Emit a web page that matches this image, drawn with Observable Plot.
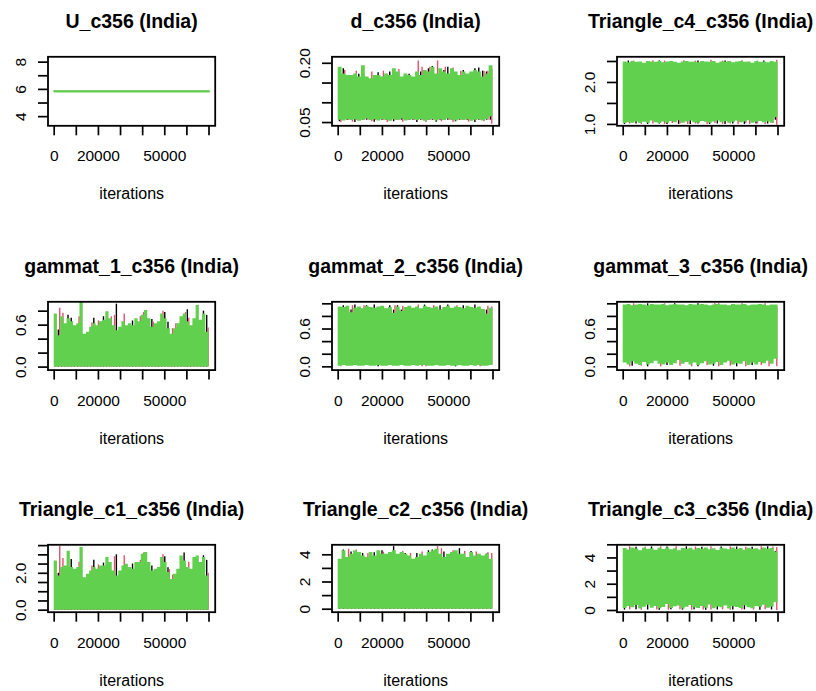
<!DOCTYPE html>
<html><head><meta charset="utf-8">
<script src="https://cdn.jsdelivr.net/npm/d3@7"></script>
<script src="https://cdn.jsdelivr.net/npm/@observablehq/plot@0.6"></script>
<style>
html,body{margin:0;padding:0;background:#fff;}
#chart{position:relative;width:816px;height:691px;overflow:hidden;background:#fff;}
#chart svg{position:absolute;}
</style></head><body><div id="chart"></div>
<script>
// ---------------- data ----------------
const titles = ["U_c356 (India)","d_c356 (India)","Triangle_c4_c356 (India)",
  "gammat_1_c356 (India)","gammat_2_c356 (India)","gammat_3_c356 (India)",
  "Triangle_c1_c356 (India)","Triangle_c2_c356 (India)","Triangle_c3_c356 (India)"];
const xLabel = "iterations";
const iterRange = [0, 70000];
const xDomain = [-2800, 72800];
const xTicks = [0,10000,20000,30000,40000,50000,60000,70000];
const xTickLabels = ["0","20000","50000"];

// U_c356: all three chains constant
const U_chains = {black: 5.86, red: 5.86, green: 5.86};
const U_yDomain = [3.328, 8.392];
const U_yTicks = [4,5,6,7,8];
const U_yLabels = ["4","6","8"];

// d_c356
const d_yDomain = [0.0418, 0.2164];
const d_yTicks = [0.05,0.10,0.15,0.20];
const d_yLabels = ["0.05","0.20"];
const d_green_hi = [0.190,0.173,0.169,0.169,0.173,0.165,0.194,0.165,0.161,0.169,0.169,0.165,0.173,0.169,0.186,0.178,0.165,0.173,0.169,0.165,0.178,0.169,0.182,0.178,0.190,0.173,0.186,0.178,0.173,0.186,0.178,0.169,0.178,0.173,0.178,0.182,0.178,0.165,0.173,0.194];
const d_green_lo = [0.056,0.054,0.058,0.055,0.057,0.053,0.056,0.059,0.055,0.057,0.054,0.058,0.056,0.053,0.057,0.055,0.059,0.054,0.056,0.058,0.055,0.057,0.053,0.056,0.058,0.054,0.057,0.055,0.059,0.056,0.054,0.057,0.055,0.058,0.053,0.056,0.057,0.054,0.058,0.065];
const d_red_hi = [0.160,0.182,0.150,0.158,0.180,0.150,0.170,0.155,0.178,0.150,0.160,0.180,0.150,0.165,0.160,0.184,0.150,0.158,0.160,0.150,0.206,0.190,0.160,0.190,0.170,0.206,0.160,0.190,0.165,0.188,0.150,0.180,0.160,0.165,0.150,0.170,0.160,0.180,0.180,0.185];
const d_red_lo = [0.050,0.056,0.056,0.051,0.056,0.056,0.056,0.056,0.052,0.056,0.056,0.056,0.050,0.056,0.056,0.056,0.051,0.056,0.056,0.056,0.056,0.056,0.050,0.056,0.056,0.056,0.052,0.056,0.056,0.050,0.056,0.056,0.056,0.051,0.056,0.056,0.056,0.052,0.056,0.046];
const d_black_hi = [0.150,0.186,0.150,0.160,0.150,0.172,0.160,0.150,0.155,0.150,0.176,0.150,0.160,0.178,0.150,0.160,0.150,0.155,0.172,0.150,0.160,0.178,0.150,0.186,0.192,0.150,0.160,0.182,0.190,0.150,0.160,0.150,0.182,0.160,0.150,0.186,0.188,0.180,0.178,0.160];
const d_black_lo = [0.052,0.056,0.056,0.056,0.050,0.056,0.056,0.056,0.056,0.051,0.056,0.056,0.056,0.056,0.052,0.056,0.056,0.056,0.056,0.056,0.050,0.056,0.056,0.056,0.056,0.051,0.056,0.056,0.056,0.056,0.052,0.056,0.056,0.056,0.056,0.050,0.056,0.056,0.056,0.056];

// Triangle_c4_c356
const t4_yDomain = [0.967, 2.612];
const t4_yTicks = [1.0,1.5,2.0,2.5];
const t4_yLabels = ["1.0","2.0"];
const t4_green_hi = [2.49,2.47,2.50,2.48,2.49,2.46,2.50,2.49,2.48,2.50,2.47,2.49,2.50,2.48,2.46,2.49,2.50,2.48,2.49,2.47,2.50,2.49,2.48,2.50,2.46,2.49,2.48,2.50,2.47,2.49,2.50,2.48,2.49,2.46,2.50,2.48,2.49,2.47,2.50,2.48];
const t4_green_lo = [1.02,1.04,1.03,1.06,1.02,1.05,1.03,1.08,1.04,1.02,1.06,1.03,1.07,1.04,1.09,1.03,1.06,1.08,1.04,1.03,1.07,1.05,1.03,1.06,1.08,1.04,1.07,1.03,1.05,1.08,1.04,1.06,1.09,1.03,1.05,1.07,1.04,1.06,1.03,1.16];
const t4_red_hi = [2.45,2.45,2.51,2.45,2.45,2.45,2.45,2.52,2.45,2.45,2.51,2.45,2.45,2.45,2.45,2.52,2.45,2.45,2.51,2.45,2.45,2.45,2.53,2.45,2.45,2.51,2.45,2.45,2.45,2.45,2.52,2.45,2.45,2.45,2.51,2.45,2.45,2.45,2.45,2.53];
const t4_red_lo = [1.10,1.01,1.10,1.10,1.00,1.10,1.10,1.01,1.10,1.10,1.00,1.10,1.02,1.10,1.01,1.10,1.00,1.10,1.01,1.10,1.10,1.00,1.10,1.02,1.10,1.00,1.10,1.01,1.10,1.00,1.10,1.02,1.00,1.10,1.01,1.10,1.00,1.10,1.02,0.98];
const t4_black_hi = [2.45,2.51,2.45,2.45,2.45,2.45,2.45,2.45,2.45,2.51,2.45,2.45,2.45,2.45,2.45,2.45,2.45,2.45,2.45,2.51,2.45,2.45,2.45,2.45,2.45,2.45,2.51,2.45,2.45,2.45,2.45,2.45,2.45,2.45,2.45,2.45,2.51,2.45,2.45,2.45];
const t4_black_lo = [1.00,1.10,1.10,1.01,1.10,1.10,1.00,1.10,1.10,1.01,1.10,1.00,1.10,1.10,1.00,1.10,1.10,1.00,1.10,1.01,1.10,1.10,1.00,1.10,1.01,1.10,1.00,1.10,1.01,1.10,1.10,1.00,1.10,1.10,1.01,1.10,1.10,1.01,1.10,1.10];

// gammat_1_c356
const g1_yDomain = [-0.043, 0.934];
const g1_yTicks = [0,0.2,0.4,0.6,0.8];
const g1_yLabels = ["0.0","0.6"];
const g1_green_hi = [0.76,0.45,0.72,0.62,0.69,0.65,0.59,0.62,0.93,0.47,0.50,0.57,0.62,0.59,0.65,0.67,0.79,0.69,0.59,0.52,0.57,0.65,0.59,0.62,0.59,0.69,0.65,0.74,0.81,0.69,0.57,0.62,0.65,0.76,0.69,0.55,0.47,0.55,0.62,0.72,0.76,0.65,0.59,0.69,0.88,0.67,0.76,0.50];
const g1_green_lo = 0;
const g1_red_hi = [0.40,0.84,0.77,0.40,0.40,0.40,0.40,0.72,0.40,0.40,0.40,0.63,0.40,0.66,0.40,0.40,0.40,0.72,0.74,0.40,0.40,0.76,0.40,0.40,0.40,0.40,0.72,0.78,0.40,0.40,0.64,0.40,0.40,0.80,0.40,0.40,0.55,0.62,0.40,0.40,0.78,0.70,0.40,0.40,0.40,0.40,0.40,0.56];
const g1_red_lo = 0;
const g1_black_hi = [0.40,0.53,0.40,0.40,0.74,0.70,0.40,0.40,0.40,0.40,0.40,0.40,0.70,0.40,0.40,0.72,0.40,0.40,0.40,0.90,0.40,0.40,0.40,0.40,0.66,0.40,0.40,0.40,0.40,0.40,0.68,0.40,0.40,0.40,0.78,0.64,0.40,0.40,0.40,0.40,0.40,0.82,0.40,0.40,0.40,0.40,0.80,0.74];
const g1_black_lo = 0;

// gammat_2_c356
const g2_yDomain = [-0.052, 1.032];
const g2_yTicks = [0,0.2,0.4,0.6,0.8,1.0];
const g2_yLabels = ["0.0","0.6"];
const g2_green_hi = [0.95,0.94,0.96,0.86,0.93,0.95,0.92,0.96,0.94,0.93,0.95,0.96,0.92,0.94,0.85,0.95,0.88,0.94,0.96,0.93,0.95,0.92,0.96,0.94,0.93,0.95,0.90,0.94,0.96,0.93,0.95,0.94,0.92,0.96,0.94,0.93,0.95,0.91,0.84,0.93];
const g2_green_lo = [0.01,0.02,0.01,0.01,0.02,0.01,0.01,0.02,0.01,0.01,0.02,0.01,0.01,0.02,0.01,0.01,0.02,0.01,0.01,0.02,0.01,0.02,0.02,0.01,0.01,0.02,0.01,0.01,0.02,0.01,0.01,0.02,0.01,0.01,0.02,0.01,0.02,0.01,0.01,0.02];
const g2_red_hi = [0.90,0.90,0.90,0.97,0.90,0.90,0.97,0.90,0.90,0.90,0.90,0.90,0.90,0.90,0.97,0.90,0.96,0.90,0.90,0.90,0.98,0.90,0.90,0.90,0.97,0.90,0.90,0.90,0.90,0.90,0.97,0.90,0.90,0.90,0.90,0.90,0.90,0.90,0.96,0.95];
const g2_red_lo = [0.00,0.03,0.03,0.03,0.03,0.03,0.03,0.03,0.03,0.03,0.03,0.03,0.03,0.03,0.03,0.03,0.03,0.03,0.03,0.03,0.03,0.00,0.00,0.03,0.03,0.03,0.03,0.03,0.03,0.03,0.03,0.03,0.03,0.03,0.03,0.03,0.00,0.03,0.03,0.03];
const g2_black_hi = [0.90,0.97,0.90,0.90,0.98,0.90,0.90,0.97,0.90,0.98,0.90,0.90,0.90,0.97,0.90,0.97,0.90,0.90,0.90,0.90,0.90,0.90,0.98,0.90,0.90,0.90,0.97,0.90,0.98,0.90,0.90,0.90,0.97,0.90,0.90,0.98,0.90,0.90,0.90,0.90];
const g2_black_lo = [0.03,0.03,0.03,0.03,0.03,0.03,0.03,0.03,0.03,0.03,0.00,0.03,0.03,0.03,0.03,0.03,0.03,0.03,0.03,0.03,0.03,0.03,0.03,0.03,0.03,0.03,0.03,0.03,0.03,0.03,0.00,0.03,0.03,0.03,0.03,0.03,0.03,0.03,0.03,0.03];

// gammat_3_c356
const g3_yDomain = [-0.052, 1.032];
const g3_yTicks = [0,0.2,0.4,0.6,0.8,1.0];
const g3_yLabels = ["0.0","0.6"];
const g3_green_hi = [0.98,0.99,0.97,0.98,0.99,0.98,0.97,0.99,0.98,0.98,0.99,0.97,0.98,0.99,0.98,0.98,0.97,0.99,0.98,0.98,0.99,0.98,0.97,0.98,0.99,0.98,0.98,0.97,0.99,0.98,0.98,0.99,0.97,0.98,0.98,0.99,0.98,0.97,0.98,0.98];
const g3_green_lo = [0.06,0.03,0.08,0.04,0.02,0.07,0.03,0.05,0.09,0.04,0.03,0.06,0.02,0.05,0.10,0.04,0.07,0.03,0.06,0.02,0.05,0.08,0.03,0.04,0.07,0.02,0.06,0.09,0.03,0.05,0.04,0.08,0.02,0.06,0.03,0.07,0.05,0.09,0.04,0.12];
const g3_red_hi = [0.95,0.95,1.00,0.95,0.95,0.95,0.95,0.95,0.95,0.95,1.00,0.95,0.95,0.95,0.95,0.95,0.95,0.95,0.95,0.95,0.95,0.95,0.95,1.00,1.00,0.95,0.95,0.95,0.95,0.95,1.00,0.95,0.95,0.95,0.95,0.95,1.00,0.95,0.95,0.95];
const g3_red_lo = [0.15,0.00,0.15,0.15,0.01,0.15,0.15,0.15,0.15,0.00,0.15,0.15,0.15,0.15,0.01,0.15,0.15,0.00,0.15,0.15,0.15,0.02,0.15,0.15,0.00,0.15,0.15,0.01,0.15,0.15,0.15,0.00,0.15,0.15,0.15,0.02,0.15,0.00,0.15,0.00];
const g3_black_hi = [0.95,0.95,0.95,0.95,0.95,0.95,1.00,0.95,0.95,0.95,0.95,0.95,0.95,1.00,0.95,0.95,0.95,0.95,0.95,1.00,0.95,0.95,0.95,0.95,0.95,0.95,0.95,0.95,0.95,0.95,0.95,0.95,0.95,0.95,0.95,0.95,0.95,0.95,0.95,0.95];
const g3_black_lo = [0.15,0.15,0.01,0.15,0.15,0.15,0.00,0.15,0.15,0.15,0.15,0.02,0.15,0.15,0.15,0.15,0.15,0.15,0.15,0.00,0.15,0.15,0.15,0.01,0.15,0.15,0.15,0.15,0.15,0.00,0.15,0.15,0.15,0.02,0.15,0.15,0.15,0.15,0.15,0.15];

// Triangle_c1_c356
const t1_yDomain = [-0.109, 3.544];
const t1_yTicks = [0,0.5,1.0,1.5,2.0,2.5,3.0,3.5];
const t1_yLabels = ["0.0","2.0"];
const t1_green_hi = [2.67,1.85,2.31,2.40,3.20,2.31,2.22,2.31,3.40,1.76,1.95,2.13,2.31,2.22,2.40,2.40,2.85,2.58,2.13,1.85,2.13,2.40,2.49,2.31,2.22,2.58,2.58,3.03,3.13,2.58,2.13,2.22,2.31,2.85,2.58,2.04,1.67,1.95,2.22,2.94,2.67,2.31,2.22,2.85,2.94,2.58,2.85,1.85];
const t1_green_lo = 0;
const t1_red_hi = [1.50,3.45,2.80,1.50,1.50,1.50,1.50,2.60,1.50,1.50,1.50,2.40,1.50,2.45,1.50,1.50,1.50,1.50,2.90,1.50,1.50,2.95,1.50,1.50,1.50,1.50,2.70,3.10,1.50,1.50,1.50,1.50,1.50,3.00,1.50,2.20,1.90,1.50,1.50,1.50,1.50,2.60,1.50,1.50,1.50,1.50,1.50,2.00];
const t1_red_lo = 0;
const t1_black_hi = [1.50,2.00,1.50,1.50,1.50,2.75,1.50,1.50,1.50,1.50,1.50,1.50,2.70,1.50,1.50,2.55,1.50,1.50,1.50,3.00,1.50,1.50,1.50,1.50,2.50,1.50,1.50,1.50,1.50,1.50,2.40,1.50,1.50,1.50,2.90,2.30,1.50,1.50,1.50,1.50,3.10,1.50,1.50,1.50,1.50,1.50,2.95,2.70];
const t1_black_lo = 0;

// Triangle_c2_c356
const t2_yDomain = [-0.22, 4.735];
const t2_yTicks = [0,1,2,3,4];
const t2_yLabels = ["0","2","4"];
const t2_green_hi = [3.67,4.29,3.80,4.04,4.29,4.16,3.92,3.80,4.16,3.92,4.29,4.04,4.04,4.16,4.29,4.04,4.16,4.04,3.92,3.67,3.80,4.04,3.92,4.16,4.29,4.41,4.04,3.80,4.04,4.16,4.29,4.04,4.04,3.80,4.16,3.92,4.04,3.92,4.04,3.67];
const t2_green_lo = 0;
const t2_red_hi = [3.60,3.60,4.41,3.60,4.35,3.60,3.60,4.10,3.60,3.60,3.60,4.20,3.60,3.60,3.60,3.60,4.25,3.60,4.10,3.60,3.60,4.20,3.60,3.60,3.60,4.60,4.45,3.60,3.60,4.30,3.60,3.60,4.25,3.60,3.60,4.20,3.60,3.60,4.15,4.10];
const t2_red_lo = 0;
const t2_black_hi = [3.60,4.35,3.60,4.20,3.60,3.60,4.10,3.60,3.60,4.15,3.60,4.30,3.60,3.60,4.60,3.60,3.60,4.10,3.60,3.60,4.10,3.60,3.60,4.30,4.35,3.60,3.60,4.20,3.60,3.60,3.60,4.45,3.60,3.60,4.25,3.60,3.60,3.60,4.05,3.60];
const t2_black_lo = 0;

// Triangle_c3_c356
const t3_yDomain = [-0.13, 5.0];
const t3_yTicks = [0,1,2,3,4,5];
const t3_yLabels = ["0","2","4"];
const t3_green_hi = [4.72,4.60,4.75,4.68,4.55,4.74,4.66,4.70,4.58,4.73,4.65,4.76,4.62,4.70,4.55,4.72,4.67,4.74,4.60,4.71,4.66,4.75,4.63,4.70,4.57,4.73,4.68,4.62,4.76,4.65,4.71,4.58,4.74,4.66,4.70,4.61,4.75,4.67,4.72,4.45];
const t3_green_lo = [0.15,0.30,0.20,0.38,0.12,0.25,0.40,0.18,0.30,0.14,0.22,0.45,0.16,0.28,0.35,0.12,0.24,0.38,0.20,0.15,0.30,0.18,0.42,0.14,0.26,0.20,0.34,0.12,0.28,0.22,0.16,0.36,0.20,0.14,0.30,0.24,0.40,0.18,0.26,0.60];
const t3_red_hi = [4.50,4.85,4.50,4.50,4.50,4.82,4.50,4.50,4.50,4.84,4.50,4.50,4.50,4.86,4.50,4.50,4.50,4.50,4.83,4.50,4.50,4.50,4.85,4.50,4.50,4.50,4.50,4.84,4.50,4.50,4.50,4.82,4.50,4.50,4.50,4.86,4.50,4.50,4.83,4.80];
const t3_red_lo = [0.60,0.05,0.60,0.60,0.02,0.60,0.60,0.60,0.04,0.60,0.60,0.03,0.60,0.60,0.05,0.60,0.60,0.02,0.60,0.60,0.04,0.60,0.03,0.60,0.60,0.05,0.60,0.02,0.60,0.60,0.04,0.60,0.60,0.03,0.60,0.60,0.05,0.60,0.60,0.00];
const t3_black_hi = [4.50,4.50,4.50,4.82,4.50,4.50,4.50,4.84,4.50,4.50,4.50,4.83,4.50,4.50,4.50,4.50,4.85,4.50,4.50,4.50,4.82,4.50,4.50,4.50,4.50,4.84,4.50,4.50,4.50,4.83,4.50,4.50,4.50,4.82,4.50,4.50,4.50,4.85,4.50,4.50];
const t3_black_lo = [0.03,0.60,0.60,0.05,0.60,0.60,0.04,0.60,0.60,0.02,0.60,0.60,0.06,0.60,0.60,0.03,0.60,0.60,0.05,0.60,0.60,0.02,0.60,0.60,0.04,0.60,0.60,0.60,0.03,0.60,0.60,0.05,0.60,0.60,0.60,0.02,0.60,0.60,0.04,0.60];

// ---------------- build ----------------
const COLORS = {black: "#000000", red: "#DF536B", green: "#61D04F"};
const ch = (hi, lo) => ({hi, lo});
const panels = [
  {title: titles[0], yDomain: U_yDomain, yTicks: U_yTicks, yLabels: U_yLabels, constant: U_chains},
  {title: titles[1], yDomain: d_yDomain, yTicks: d_yTicks, yLabels: d_yLabels, black: ch(d_black_hi, d_black_lo), red: ch(d_red_hi, d_red_lo), green: ch(d_green_hi, d_green_lo)},
  {title: titles[2], yDomain: t4_yDomain, yTicks: t4_yTicks, yLabels: t4_yLabels, black: ch(t4_black_hi, t4_black_lo), red: ch(t4_red_hi, t4_red_lo), green: ch(t4_green_hi, t4_green_lo)},
  {title: titles[3], yDomain: g1_yDomain, yTicks: g1_yTicks, yLabels: g1_yLabels, black: ch(g1_black_hi, g1_black_lo), red: ch(g1_red_hi, g1_red_lo), green: ch(g1_green_hi, g1_green_lo)},
  {title: titles[4], yDomain: g2_yDomain, yTicks: g2_yTicks, yLabels: g2_yLabels, black: ch(g2_black_hi, g2_black_lo), red: ch(g2_red_hi, g2_red_lo), green: ch(g2_green_hi, g2_green_lo)},
  {title: titles[5], yDomain: g3_yDomain, yTicks: g3_yTicks, yLabels: g3_yLabels, black: ch(g3_black_hi, g3_black_lo), red: ch(g3_red_hi, g3_red_lo), green: ch(g3_green_hi, g3_green_lo)},
  {title: titles[6], yDomain: t1_yDomain, yTicks: t1_yTicks, yLabels: t1_yLabels, black: ch(t1_black_hi, t1_black_lo), red: ch(t1_red_hi, t1_red_lo), green: ch(t1_green_hi, t1_green_lo)},
  {title: titles[7], yDomain: t2_yDomain, yTicks: t2_yTicks, yLabels: t2_yLabels, black: ch(t2_black_hi, t2_black_lo), red: ch(t2_red_hi, t2_red_lo), green: ch(t2_green_hi, t2_green_lo)},
  {title: titles[8], yDomain: t3_yDomain, yTicks: t3_yTicks, yLabels: t3_yLabels, black: ch(t3_black_hi, t3_black_lo), red: ch(t3_red_hi, t3_red_lo), green: ch(t3_green_hi, t3_green_lo)}
];

function binRows(c) {
  const n = c.hi.length, w = (iterRange[1] - iterRange[0]) / n;
  return c.hi.map((h, i) => ({x0: iterRange[0] + i * w, xc: iterRange[0] + (i + 0.5) * w, hi: h, lo: Array.isArray(c.lo) ? c.lo[i] : c.lo}));
}
function edgeRows(c) {
  const rows = binRows(c);
  const last = rows[rows.length - 1];
  return rows.concat([{x0: iterRange[1], hi: last.hi, lo: last.lo}]);
}

const container = document.getElementById("chart");
const colLeft = [0, 284.2, 568.5];
const rowTop = [0, 244.6, 487.7];
const rowFrameH = [69, 68.3, 67.4];
const W = 284, H = 244, mL = 47.5, mT = 56.3, FW = 167.2;
const FONT = '"Liberation Sans", Arial, Helvetica, sans-serif';

panels.forEach((p, k) => {
  const r = Math.floor(k / 3), c = k % 3;
  const fh = rowFrameH[r];
  const marks = [];
  if (p.constant) {
    for (const [name, sw] of [["black", 0.8], ["red", 0.8], ["green", 2.2]]) {
      marks.push(Plot.lineY(iterRange.map(x => ({x, y: p.constant[name]})), {x: "x", y: "y", stroke: COLORS[name], strokeWidth: sw}));
    }
  } else {
    for (const [name, dx] of [["black", -0.7], ["red", 0.7]]) {
      marks.push(Plot.ruleX(binRows(p[name]), {x: "xc", y1: "lo", y2: "hi", stroke: COLORS[name], strokeWidth: 1.4, dx}));
    }
    marks.push(Plot.areaY(edgeRows(p.green), {x: "x0", y1: "lo", y2: "hi", curve: "step-after", fill: COLORS.green}));
  }
  marks.push(Plot.frame({stroke: "black", strokeWidth: 1.8}));
  marks.push(Plot.axisX({ticks: xTicks, tickSize: 10, tickFormat: () => "", label: null, strokeWidth: 1.7}));
  marks.push(Plot.axisY({ticks: p.yTicks, tickSize: 9.5, tickFormat: () => "", label: null, strokeWidth: 1.7}));
  marks.push(Plot.text(xTickLabels, {x: d => +d, text: d => d, frameAnchor: "bottom", lineAnchor: "bottom", dy: 35.4, fontSize: 15.5, fill: "black"}));
  marks.push(Plot.text(p.yLabels, {y: d => +d, text: d => d, frameAnchor: "left", lineAnchor: "bottom", textAnchor: "middle", rotate: -90, dx: -22.5, fontSize: 15.5, fill: "black"}));
  marks.push(Plot.text([p.title], {text: d => d, frameAnchor: "top", lineAnchor: "bottom", dy: -28.5, fontSize: 19.5, fontWeight: "bold", fill: "black"}));
  marks.push(Plot.text([xLabel], {text: d => d, frameAnchor: "bottom", lineAnchor: "bottom", dy: 73.5, fontSize: 16, fill: "black"}));

  const svg = Plot.plot({
    width: W, height: H,
    marginLeft: mL, marginTop: mT, marginRight: W - mL - FW, marginBottom: H - mT - fh,
    x: {domain: xDomain},
    y: {domain: p.yDomain},
    style: {fontFamily: FONT, color: "black", background: "white", overflow: "visible"},
    marks
  });
  svg.style.left = colLeft[c] + "px";
  svg.style.top = rowTop[r] + "px";
  container.appendChild(svg);
});
</script></body></html>
